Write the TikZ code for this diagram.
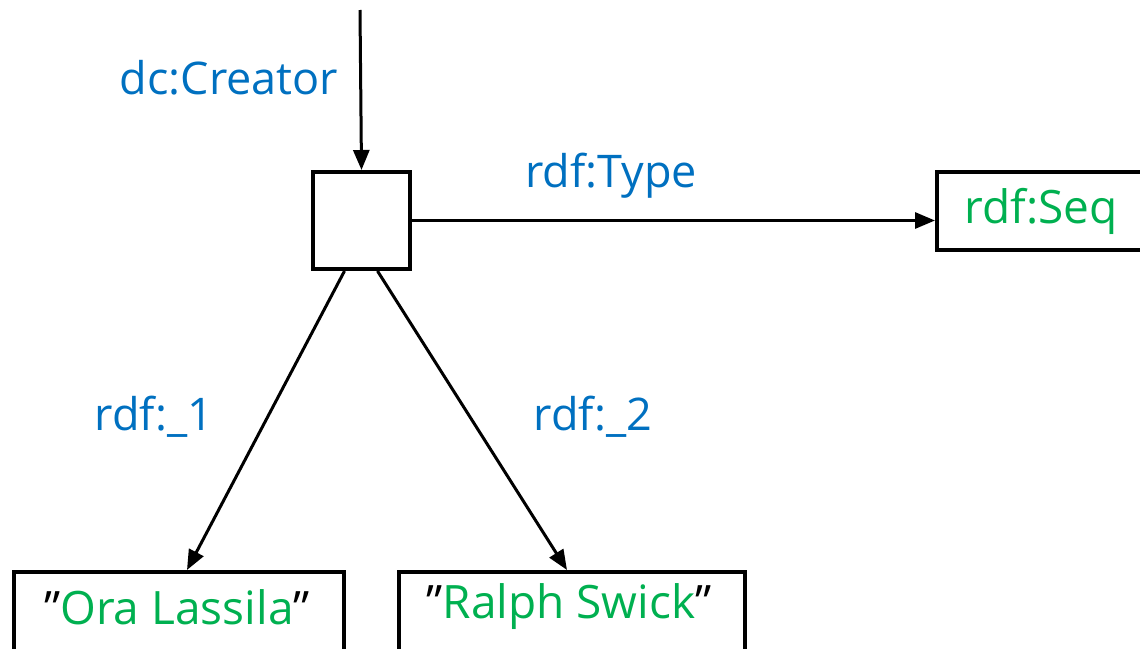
\documentclass[tikz,border=0pt]{standalone}
\usepackage{fontspec}
\setmainfont{Open Sans}
\usetikzlibrary{arrows.meta,calc}
\definecolor{propblue}{HTML}{0070C0}
\definecolor{litgreen}{HTML}{00B050}
\newcommand{\qmark}{\textcolor{black}{\char34}}
\begin{document}
\begin{tikzpicture}[x=1pt,y=-1pt,
  box/.style={draw=black,line width=4pt,inner sep=0pt,anchor=north west},
  lit/.style={text=litgreen,font=\fontsize{46}{52}\selectfont},
  prop/.style={text=propblue,font=\fontsize{45}{52}\selectfont},
  edge/.style={line width=3pt,-{Triangle[length=20pt,width=16pt]}}]
\useasboundingbox (0,0) rectangle (1140,648);
\clip (0,0) rectangle (1140,648);
% blank node of the sequence
\node[box,minimum width=97pt,minimum height=97pt] (seqnode) at (311,170) {};
% typed and literal nodes
\node[box,minimum width=260pt,minimum height=78pt] (seq) at (935,170) {};
\node[lit] (seqtext) at (1041,211) {rdf:Seq};
\node[box,minimum width=330pt,minimum height=100pt] (ora) at (12,570) {};
\node[lit] (oratext) at (177,607) {\qmark Ora Lassila\qmark};
\node[box,minimum width=346pt,minimum height=100pt] (ralph) at (397,570) {};
\node[lit] (ralphtext) at (569,607) {\qmark Ralph Swick\qmark};
% connectors
\coordinate (top) at (360,10);
\draw[edge] (top) -- (seqnode.north);
\draw[edge] (seqnode.east) -- (seq.west |- seqnode.east);
\draw[edge] ($(seqnode.south)+(-17,0)$) -- ($(ora.north)+(8,0)$);
\draw[edge] ($(seqnode.south)+(16,0)$) -- ($(ralph.north)+(-5,0)$);
% property labels
\node[prop] (lcreator) at (229,78) {dc:Creator};
\node[prop] (ltype) at (611,176) {rdf:Type};
\node[prop] (l1) at (154,417) {rdf:\_1};
\node[prop] (l2) at (593,417) {rdf:\_2};
\end{tikzpicture}
\end{document}
